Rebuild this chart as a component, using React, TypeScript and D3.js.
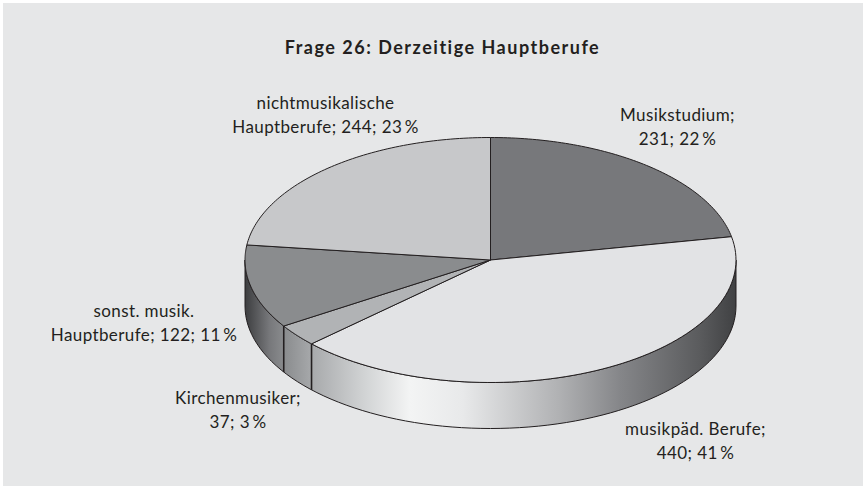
import React from "react";
import * as d3 from "d3";

const WIDTH = 863;
const HEIGHT = 488;
const title = "Frage 26: Derzeitige Hauptberufe";
const categories = ["Musikstudium", "musikpäd. Berufe", "Kirchenmusiker", "sonst. musik. Hauptberufe", "nichtmusikalische Hauptberufe"];
const values = [231, 440, 37, 122, 244];
const percents = [22, 41, 3, 11, 23];
const colors = ["#77787b", "#e2e3e5", "#b1b3b5", "#8a8c8e", "#c7c8ca"];
const labelLines = [
  ["Musikstudium;", "231; 22\u2009%"],
  ["musikpäd. Berufe;", "440; 41\u2009%"],
  ["Kirchenmusiker;", "37; 3\u2009%"],
  ["sonst. musik.", "Hauptberufe; 122; 11\u2009%"],
  ["nichtmusikalische", "Hauptberufe; 244; 23\u2009%"],
];
const labelPos = [
  [677.5, 120.5],
  [695.5, 435],
  [238, 404],
  [144, 317],
  [325.5, 109],
];
const sideStops: [number, string][] = [
  [0, "#3c3d3f"], [0.05, "#77787b"], [0.08, "#8a8c8e"], [0.14, "#a9abad"], [0.24, "#d0d2d3"], [0.336, "#f3f4f4"],
  [0.444, "#e8e9ea"], [0.64, "#b0b1b3"], [0.764, "#858689"], [0.927, "#5a5b5d"], [1, "#404143"],
];

const cx = 490.5, cy = 260, rx = 245.5, ry = 122.5, depth = 46;
const slices = d3.pie<number>().sort(null).startAngle(0).endAngle(2 * Math.PI)(values);
// the tilted original squeezes the angles a little
const warp = d3.scaleLinear()
  .domain([0, 1.351, 3.925, 4.141, 4.855, 2 * Math.PI])
  .range([0, 1.379, 3.958, 4.142, 4.835, 2 * Math.PI]);
const px = (a: number) => cx + rx * Math.sin(a);
const py = (a: number) => cy - ry * Math.cos(a);
const arcPath = (a0: number, a1: number, dy = 0) => {
  const n = 80;
  const pts = d3.range(n + 1).map((i) => {
    const a = a0 + ((a1 - a0) * i) / n;
    return [px(a), py(a) + dy] as [number, number];
  });
  return d3.line()(pts) as string;
};
const sideStart = Math.PI / 2, sideEnd = (3 * Math.PI) / 2;

export default function App() {
  return (
    <svg width={WIDTH} height={HEIGHT} style={{ position: "fixed", left: 0, top: 0, background: "#fff" }}
      fontFamily="Lato, 'Open Sans', sans-serif">
      <defs>
        <linearGradient id="side" gradientUnits="userSpaceOnUse" x1={cx - rx} x2={cx + rx} y1={0} y2={0}>
          {sideStops.map(([o, c]) => <stop key={o} offset={o} stopColor={c} />)}
        </linearGradient>
      </defs>
      <rect x={3} y={3} width={WIDTH - 3} height={483} fill="#e6e7e8" />
      <text x={442.5} y={54} textAnchor="middle" fontSize={18} fontWeight={700} fill="#231f20" letterSpacing={1.5}>{title}</text>
      <path
        d={`${arcPath(sideStart, sideEnd)} L${px(sideEnd)},${py(sideEnd) + depth} ${arcPath(sideEnd, sideStart, depth).replace("M", "L")} Z`}
        fill="url(#side)" stroke="#231f20" strokeWidth={1} />
      {slices.map((s, i) => {
        const a0 = warp(s.startAngle), a1 = warp(s.endAngle);
        return (
          <path key={categories[i]}
            d={`M${cx},${cy} ${arcPath(a0, a1).replace("M", "L")} Z`}
            fill={colors[i]} stroke="#231f20" strokeWidth={1} strokeLinejoin="round" />
        );
      })}
      {slices.map((s) => {
        const a = warp(s.endAngle);
        if (a <= sideStart || a >= sideEnd) return null;
        return <line key={s.index} x1={px(a)} x2={px(a)} y1={py(a)} y2={py(a) + depth} stroke="#231f20" strokeWidth={1.6} />;
      })}
      {labelLines.map((lines, i) => (
        <text key={categories[i]} textAnchor="middle" fontSize={17} fill="#231f20" letterSpacing={0.4} data-value={percents[i]}>
          {lines.map((l, j) => <tspan key={j} x={labelPos[i][0]} y={labelPos[i][1] + j * 24}>{l}</tspan>)}
        </text>
      ))}
    </svg>
  );
}
